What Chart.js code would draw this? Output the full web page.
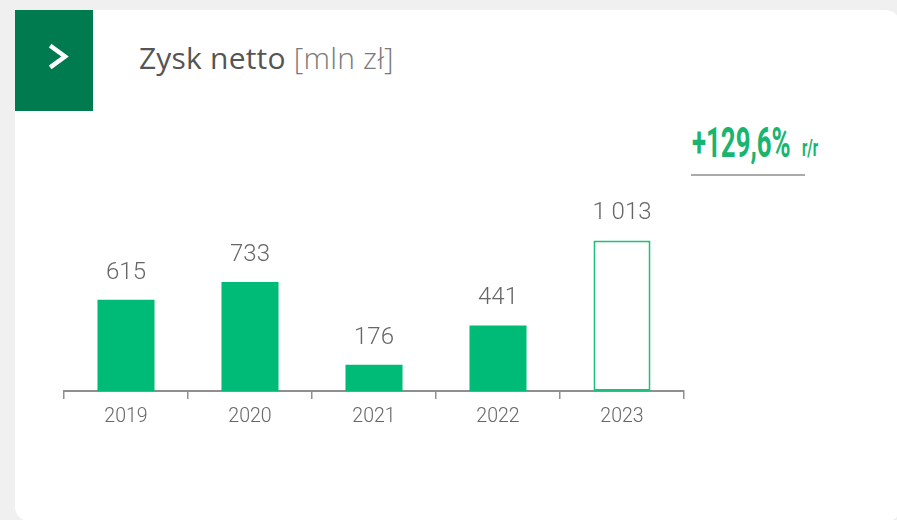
<!DOCTYPE html>
<html>
<head>
<meta charset="utf-8">
<script src="https://cdn.jsdelivr.net/npm/chart.js@4.4.1/dist/chart.umd.min.js"></script>
<style>
  html, body { margin:0; padding:0; width:897px; height:520px; overflow:hidden; background:#f0f0f0; font-family: Roboto, sans-serif; }
  #card { position:absolute; left:15px; top:10px; width:886px; height:512px; background:#fff; border-radius:16px; }
  #badge { position:absolute; left:15px; top:10px; width:78px; height:101px; background:#007a4f; }
  #title { position:absolute; left:139px; top:43px; font-family:'Open Sans', sans-serif; font-size:30px; line-height:30px; color:#555; white-space:nowrap; letter-spacing:0.2px; }
  #title .unit { font-weight:300; color:#7a7a7a; }
  #growth { position:absolute; left:692px; top:121px; font-size:43px; line-height:43px; font-weight:700; color:#17b56f; transform:scaleX(0.6); transform-origin:0 0; white-space:nowrap; }
  #rr { position:absolute; left:802px; top:136px; font-size:24px; line-height:24px; font-weight:700; color:#17b56f; transform:scaleX(0.61); transform-origin:0 0; white-space:nowrap; }
  #uline { position:absolute; left:691px; top:174px; width:114px; height:2px; background:#aaaaaa; }
  #chartWrap { position:absolute; left:0; top:0; width:897px; height:520px; }
</style>
</head>
<body>
<div id="card"></div>
<div id="badge">
  <svg width="78" height="101" viewBox="0 0 78 101">
    <polyline points="37,37 50,46.5 37,56" fill="none" stroke="#ffffff" stroke-width="4.5" stroke-linecap="square"/>
  </svg>
</div>
<div id="title">Zysk netto <span class="unit">[mln zł]</span></div>
<div id="growth">+129,6%</div>
<div id="rr">r/r</div>
<div id="uline"></div>
<div id="chartWrap"><canvas id="c" width="897" height="520"></canvas></div>
<script>
const years = ['2019', '2020', '2021', '2022', '2023'];
const netProfit = [615, 733, 176, 441, 1013];
const fillColors = ['#00bb77', '#00bb77', '#00bb77', '#00bb77', '#ffffff'];
const edgeColors = ['#00bb77', '#00bb77', '#00bb77', '#00bb77', '#1cbf7c'];
const edgeWidths = [0, 0, 0, 0, 2];

function fmt(v) {
  return String(v).replace(/\B(?=(\d{3})+(?!\d))/g, ' ');
}

const valueLabels = {
  id: 'valueLabels',
  afterDatasetsDraw(chart) {
    const ctx = chart.ctx;
    const meta = chart.getDatasetMeta(0);
    ctx.save();
    ctx.font = '300 24px Roboto';
    ctx.fillStyle = '#666666';
    ctx.textAlign = 'center';
    ctx.textBaseline = 'alphabetic';
    meta.data.forEach((bar, i) => {
      ctx.fillText(fmt(netProfit[i]), bar.x, bar.y - 21);
    });
    ctx.restore();
  }
};

new Chart(document.getElementById('c'), {
  type: 'bar',
  data: {
    labels: years,
    datasets: [{
      data: netProfit,
      backgroundColor: fillColors,
      borderColor: edgeColors,
      borderWidth: edgeWidths,
      borderSkipped: false,
      barPercentage: 0.46,
      categoryPercentage: 1
    }]
  },
  options: {
    responsive: false,
    animation: false,
    events: [],
    layout: { padding: { left: 64, right: 213, top: 183, bottom: 0 } },
    plugins: { legend: { display: false }, tooltip: { enabled: false } },
    scales: {
      x: {
        afterFit(scale) { scale.height = 129; },
        border: { display: true, color: '#8f8f8f', width: 2 },
        grid: { display: true, drawOnChartArea: false, drawTicks: true, tickLength: 8, color: '#8f8f8f', lineWidth: 1.5, offset: true },
        ticks: { color: '#666666', font: { family: 'Roboto', size: 19.5, weight: '300' }, padding: 6 }
      },
      y: { display: false, min: 0, max: 1400 }
    }
  },
  plugins: [valueLabels]
});
</script>
</body>
</html>
